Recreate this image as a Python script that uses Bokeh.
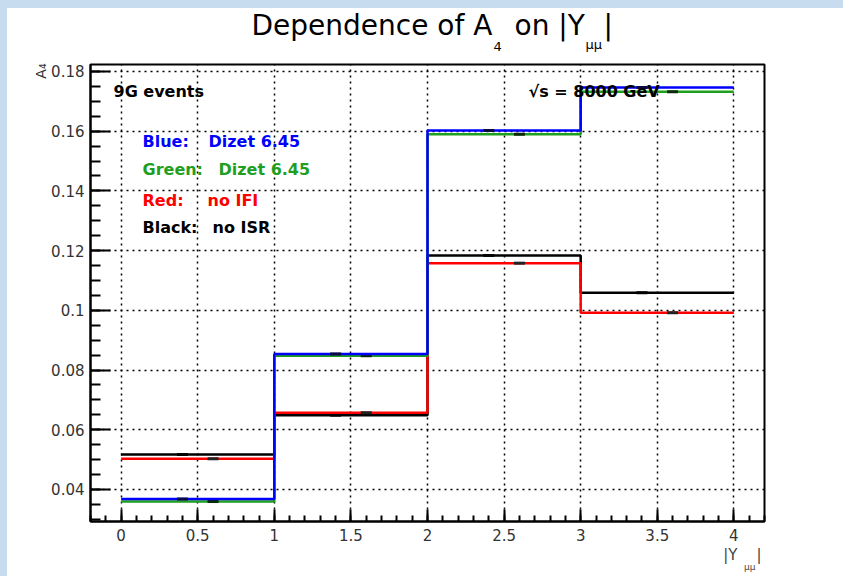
import math
from bokeh.plotting import figure
from bokeh.models import Label, FixedTicker, Spacer, Range1d, Title
from bokeh.layouts import row, column
from bokeh.embed import file_html
from bokeh.resources import INLINE

# ---------------- data ----------------
bin_edges = [0, 1, 2, 3, 4]
blue_vals = [0.0368, 0.0854, 0.1602, 0.1746]    # Dizet 6.45
green_vals = [0.0360, 0.0848, 0.1590, 0.1732]   # Dizet 6.45
red_vals = [0.0503, 0.0657, 0.1158, 0.0992]     # no IFI
black_vals = [0.0517, 0.0649, 0.1184, 0.1059]   # no ISR

y_ticks = [0.04, 0.06, 0.08, 0.1, 0.12, 0.14, 0.16, 0.18]
y_tick_labels = ["0.04", "0.06", "0.08", "0.1", "0.12", "0.14", "0.16", "0.18"]
x_ticks = [0, 0.5, 1, 1.5, 2, 2.5, 3, 3.5, 4]
x_tick_labels = ["0", "0.5", "1", "1.5", "2", "2.5", "3", "3.5", "4"]

title_main = "Dependence of A"
title_sub1 = "4"
title_mid = "on |Y"
title_sub2 = "\u03bc\u03bc"
title_end = "|"

# ---------------- geometry ----------------
XMIN, XMAX = -0.2, 4.2
YMIN, YMAX = 0.02928, 0.18234
PAGE_W, PAGE_H = 843, 576
OFF_X, OFF_Y = 7, 8            # light-blue page border
FL, FR, FT, FB = 90, 764, 64, 521   # frame on page
TITLE_H = FT - OFF_Y - 2       # height of the title strip

FONT = "DejaVu Sans"

# ---------------- title strip ----------------
tf = figure(width=PAGE_W - OFF_X, height=TITLE_H,
            x_range=Range1d(FL, FR), y_range=Range1d(OFF_Y + TITLE_H, OFF_Y),
            x_axis_type=None, y_axis_type=None, output_backend="svg",
            toolbar_location=None, title=None,
            min_border_left=FL - OFF_X, min_border_right=PAGE_W - FR,
            min_border_top=0, min_border_bottom=0)
tf.outline_line_color = None
tf.grid.visible = False
tf.background_fill_color = "white"
tf.border_fill_color = "white"


def tlab(text, px, py, size):
    tf.add_layout(Label(x=px, y=py, text=text, text_font=FONT,
                        text_font_size=f"{size}px", text_color="black",
                        text_align="left", text_baseline="alphabetic"))


tlab(title_main, 251, 25, 28)
tlab(title_sub1, 493, 46, 13)
tlab(title_mid, 514, 25, 28)
tlab(title_sub2, 585, 44, 13)
tlab(title_end, 603, 25, 28)

# ---------------- main plot ----------------


def dx(px):
    return XMIN + (px - FL) / (FR - FL) * (XMAX - XMIN)


def dy(py):
    return YMAX - (py - FT) / (FB - FT) * (YMAX - YMIN)


p = figure(width=PAGE_W - OFF_X, height=PAGE_H - OFF_Y - TITLE_H,
           x_range=Range1d(XMIN, XMAX), y_range=Range1d(YMIN, YMAX),
           output_backend="svg", toolbar_location=None, title=None,
           min_border_left=FL - OFF_X, min_border_right=PAGE_W - FR,
           min_border_top=2, min_border_bottom=PAGE_H - FB)
p.background_fill_color = "white"
p.border_fill_color = "white"
p.outline_line_color = "black"
p.outline_line_width = 2

# axes
minor_y = [round(0.03 + 0.005 * i, 4) for i in range(31)]
minor_x = [round(-0.2 + 0.1 * i, 3) for i in range(45)]
p.yaxis.ticker = FixedTicker(ticks=y_ticks, minor_ticks=minor_y)
p.xaxis.ticker = FixedTicker(ticks=x_ticks, minor_ticks=minor_x)
p.yaxis.major_label_overrides = {t: s for t, s in zip(y_ticks, y_tick_labels)}
p.xaxis.major_label_overrides = {t: s for t, s in zip(x_ticks, x_tick_labels)}

for ax in (p.xaxis, p.yaxis):
    ax.axis_line_width = 2
    ax.axis_line_color = "black"
    ax.major_tick_out = 0
    ax.minor_tick_out = 0
    ax.major_tick_line_width = 2
    ax.minor_tick_line_width = 2
    ax.major_label_text_font = FONT
    ax.major_label_text_font_size = "15px"
    ax.major_label_text_color = "#333333"
p.yaxis.major_tick_in = 20
p.yaxis.minor_tick_in = 10
p.xaxis.major_tick_in = 12
p.xaxis.minor_tick_in = 6
p.yaxis.major_label_standoff = 6
p.xaxis.major_label_standoff = 7

# axis titles (side-panel titles so they are not clipped)
p.add_layout(Title(text="A\u2084", align="right", offset=-1, standoff=0,
                   text_font=FONT, text_font_size="14px", text_color="#333333",
                   text_font_style="normal"), "left")
p.add_layout(Title(text="|Y\u00a0\u00a0\u00a0\u00a0|", align="right", offset=3, standoff=0,
                   text_font=FONT, text_font_size="15px", text_color="#444444",
                   text_font_style="normal"), "below")
p.add_layout(Title(text="\u03bc\u03bc", align="right", offset=9, standoff=-16,
                   text_font=FONT, text_font_size="9px", text_color="#444444",
                   text_font_style="normal"), "below")

# grid
for g in (p.xgrid, p.ygrid):
    g.grid_line_color = "black"
    g.grid_line_dash = "2 4"
    g.grid_line_width = 1.5
    g.grid_line_alpha = 1.0
p.xgrid.ticker = FixedTicker(ticks=x_ticks)
p.ygrid.ticker = FixedTicker(ticks=y_ticks)

# histograms (step outlines)
series = [
    (black_vals, "black", "#000000", 0.4),
    (red_vals, "#ff0000", "#222222", 0.6),
    (green_vals, "#1f9f1f", "#0a2a0a", 0.6),
    (blue_vals, "#0000ff", "#0a0a40", 0.4),
]
for vals, col, mcol, off in series:
    ys = list(vals) + [vals[-1]]
    p.step(x=bin_edges, y=ys, mode="after", line_color=col, line_width=2.5)
    p.scatter(x=[e + off for e in bin_edges[:-1]], y=vals, marker="dash",
              size=11, line_width=3, line_color=mcol)


def lab(text, px, py, size, color="black", bold=False):
    p.add_layout(Label(x=dx(px), y=dy(py), text=text, text_font=FONT,
                       text_font_size=f"{size}px", text_color=color,
                       text_font_style="bold" if bold else "normal",
                       text_align="left", text_baseline="middle"))


# in-plot texts
lab("9G events", 113, 91, 16, bold=True)
lab("\u221as = 8000 GeV", 528, 91, 16, bold=True)
legend_rows = [
    ("Blue:", "Dizet 6.45", "#0000ff", 141, 208),
    ("Green:", "Dizet 6.45", "#1f9f1f", 169, 218),
    ("Red:", "no IFI", "#ff0000", 200, 207),
    ("Black:", "no ISR", "#000000", 227, 212),
]
for a, b, col, py, px2 in legend_rows:
    lab(a, 142, py, 16, color=col, bold=True)
    lab(b, px2, py, 16, color=col, bold=True)

band = "#c8dcf0"
left_band = Spacer(width=OFF_X, height=PAGE_H, styles={"background-color": band})
top_band = Spacer(width=PAGE_W - OFF_X, height=OFF_Y, styles={"background-color": band})
layout = row(left_band, column(top_band, tf, p))

open("out.html", "w").write(file_html(layout, INLINE))
